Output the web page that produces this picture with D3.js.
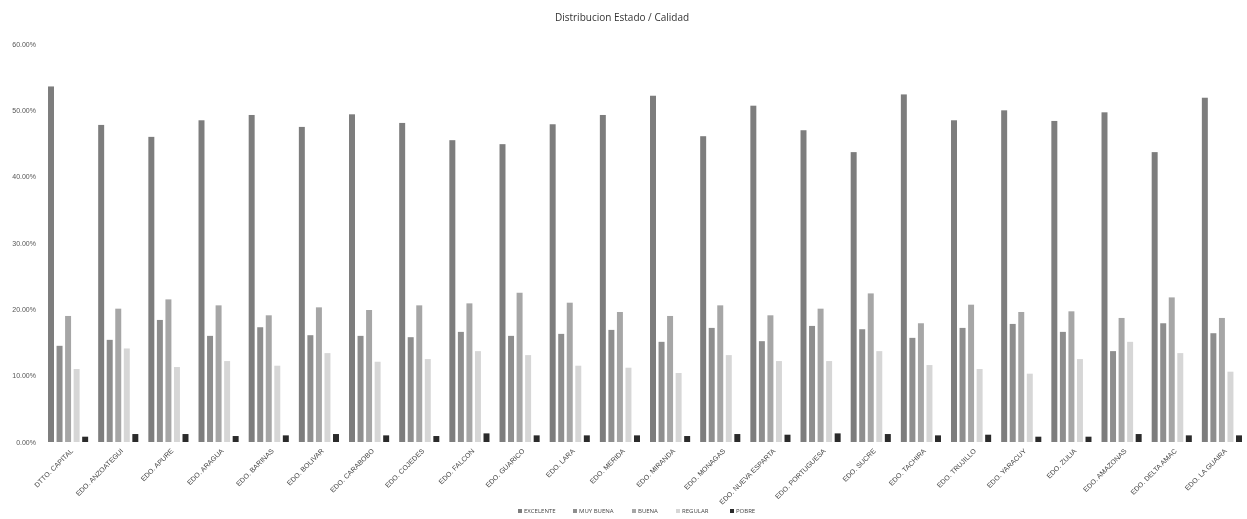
<!DOCTYPE html>
<html>
<head>
<meta charset="utf-8">
<script src="https://cdn.jsdelivr.net/npm/d3@7"></script>
<style>
  body { margin: 0; background: #fff; }
  svg { font-family: "Open Sans", "Liberation Sans", sans-serif; will-change: transform; }
</style>
</head>
<body>
<svg width="1247" height="519"></svg>
<script>
// data (percentages)
const estados = ['DTTO. CAPITAL', 'EDO. ANZOATEGUI', 'EDO. APURE', 'EDO. ARAGUA', 'EDO. BARINAS', 'EDO. BOLIVAR',
    'EDO. CARABOBO', 'EDO. COJEDES', 'EDO. FALCON', 'EDO. GUARICO', 'EDO. LARA', 'EDO. MERIDA', 'EDO. MIRANDA',
    'EDO. MONAGAS', 'EDO. NUEVA ESPARTA', 'EDO. PORTUGUESA', 'EDO. SUCRE', 'EDO. TACHIRA', 'EDO. TRUJILLO',
    'EDO. YARACUY', 'EDO. ZULIA', 'EDO. AMAZONAS', 'EDO. DELTA AMAC', 'EDO. LA GUAIRA']
const calidades = ['EXCELENTE', 'MUY BUENA', 'BUENA', 'REGULAR', 'POBRE']
const excelente = [53.6, 47.8, 46.0, 48.5, 49.3, 47.5, 49.4, 48.1, 45.5, 44.9, 47.9, 49.3, 52.2, 46.1, 50.7, 47.0, 43.7, 52.4, 48.5, 50.0, 48.4, 49.7, 43.7, 51.9]
const muyBuena = [14.5, 15.4, 18.4, 16.0, 17.3, 16.1, 16.0, 15.8, 16.6, 16.0, 16.3, 16.9, 15.1, 17.2, 15.2, 17.5, 17.0, 15.7, 17.2, 17.8, 16.6, 13.7, 17.9, 16.4]
const buena = [19.0, 20.1, 21.5, 20.6, 19.1, 20.3, 19.9, 20.6, 20.9, 22.5, 21.0, 19.6, 19.0, 20.6, 19.1, 20.1, 22.4, 17.9, 20.7, 19.6, 19.7, 18.7, 21.8, 18.7]
const regular = [11.0, 14.1, 11.3, 12.2, 11.5, 13.4, 12.1, 12.5, 13.7, 13.1, 11.5, 11.2, 10.4, 13.1, 12.2, 12.2, 13.7, 11.6, 11.0, 10.3, 12.5, 15.1, 13.4, 10.6]
const pobre = [0.8, 1.2, 1.2, 0.9, 1.0, 1.2, 1.0, 0.9, 1.3, 1.0, 1.0, 1.0, 0.9, 1.2, 1.1, 1.3, 1.2, 1.0, 1.1, 0.8, 0.8, 1.2, 1.0, 1.0]
const yTicks = [0, 10, 20, 30, 40, 50, 60]

const series = [excelente, muyBuena, buena, regular, pobre]
const colors = ['#7d7d7d', '#8e8e8e', '#a6a6a6', '#d6d6d6', '#2b2b2b']

const w = 1247
const h = 519
const svg = d3.select('svg')

//scales
const x = d3.scaleBand().domain(estados).range([43, 1247]).paddingInner(0.2).paddingOuter(0.1)
const xSub = d3.scaleBand().domain(calidades).range([0, x.bandwidth()]).paddingInner(0.3)
const y = d3.scaleLinear().domain([0, 60]).range([442, 44])

//y axis (labels only)
const yAxis = d3.axisLeft(y).tickValues(yTicks).tickFormat(d => d.toFixed(2) + '%').tickSize(0).tickPadding(0)
const yg = svg.append('g')
    .attr('transform', 'translate(36,0)')
    .style('font-size', '7px')
    .call(yAxis)
yg.select('.domain').remove()
yg.selectAll('text').attr('fill', '#555')

//bars
const groups = svg.append('g')
    .selectAll('g')
    .data(estados)
    .enter()
    .append('g')
    .attr('transform', d => 'translate(' + x(d) + ',0)')

groups.selectAll('rect')
    .data((d, i) => calidades.map((c, j) => ({ c: c, v: series[j][i], j: j })))
    .enter()
    .append('rect')
    .attr('x', d => xSub(d.c))
    .attr('width', xSub.bandwidth())
    .attr('y', d => y(d.v))
    .attr('height', d => y(0) - y(d.v))
    .attr('fill', d => colors[d.j])

//x labels
const xAxis = d3.axisBottom(x).tickSize(0).tickPadding(0)
const xg = svg.append('g')
    .attr('transform', 'translate(0,' + (y(0) + 8) + ')')
    .style('font-size', '7px')
    .call(xAxis)
xg.select('.domain').remove()
xg.selectAll('text')
    .attr('fill', '#444')
    .attr('text-anchor', 'end')
    .attr('dy', '0.3em')
    .attr('transform', 'translate(4,0) rotate(-45)')

//title
svg.append('text')
    .attr('x', 622)
    .attr('y', 21)
    .attr('text-anchor', 'middle')
    .style('font-size', '10px')
    .attr('fill', '#333')
    .text('Distribucion Estado / Calidad')

//legend
const legendX = [518, 573, 632, 676, 730]
const legend = svg.append('g')
    .selectAll('g')
    .data(calidades)
    .enter()
    .append('g')
    .attr('transform', (d, i) => 'translate(' + legendX[i] + ',513)')
legend.append('rect')
    .attr('x', 0).attr('y', -4)
    .attr('width', 4).attr('height', 4)
    .attr('fill', (d, i) => colors[i])
legend.append('text')
    .attr('x', 6).attr('y', 0)
    .style('font-size', '6px')
    .attr('fill', '#444')
    .text(d => d)
</script>
</body>
</html>
